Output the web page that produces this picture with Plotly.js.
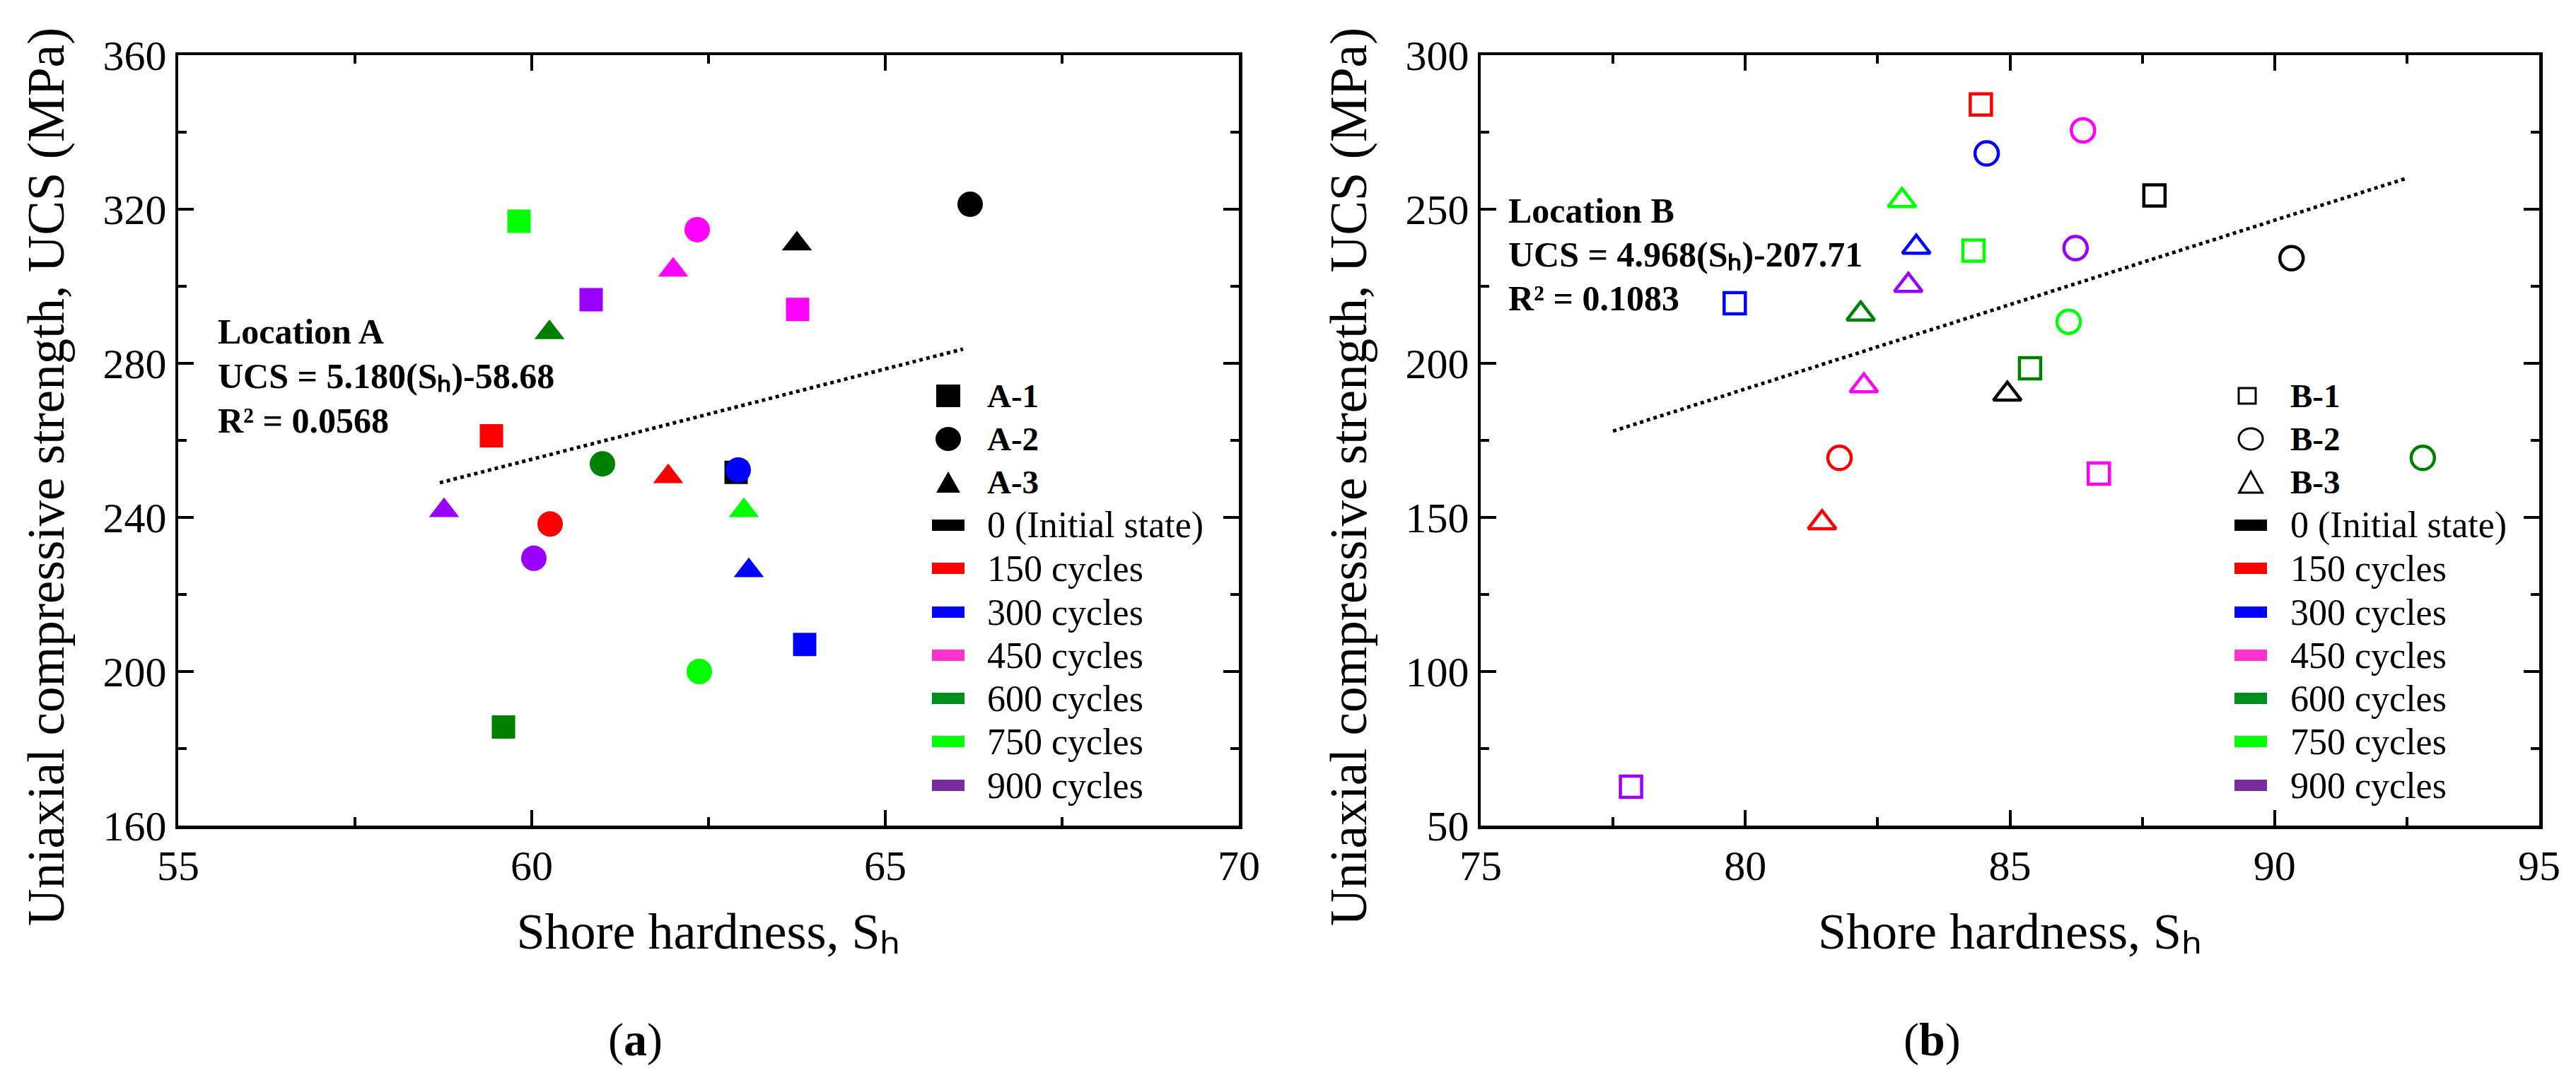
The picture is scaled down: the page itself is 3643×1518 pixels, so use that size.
<!DOCTYPE html>
<html>
<head>
<meta charset="utf-8">
<script src="https://cdn.plot.ly/plotly-3.0.1.min.js"></script>
<style>html,body{margin:0;padding:0;background:#fff;}#chart{width:3643px;height:1518px;}</style>
</head>
<body>
<div id="chart"></div>
<script>
// ---------------- DATA ----------------
const cycles = ['0 (Initial state)', '150 cycles', '300 cycles', '450 cycles', '600 cycles', '750 cycles', '900 cycles'];
const markerColors = ['#000000', '#FF0000', '#0000FF', '#FF00FF', '#008000', '#00FF00', '#9900FF'];
const legendColors = ['#000000', '#FF0000', '#0000FF', '#FF33CC', '#008F1F', '#00FF00', '#7A2C9E'];

// Location A (Shore hardness, UCS) per sample, ordered as cycles
const A1_x = [62.89, 59.43, 63.86, 63.76, 59.60, 59.82, 60.84];
const A1_y = [251.7, 261.2, 207.0, 294.0, 185.6, 316.9, 296.5];
const A2_x = [66.20, 60.26, 62.92, 62.34, 61.00, 62.37, 60.03];
const A2_y = [321.3, 238.3, 252.3, 314.7, 253.9, 200.0, 229.4];
const A3_x = [63.75, 61.93, 63.07, 62.00, 60.25, 63.00, 58.76];
const A3_y = [311.0, 250.6, 226.2, 304.2, 288.0, 241.8, 241.8];
const trendA_x = [58.7, 66.1];
const trendA_y = [249.0, 283.7];

// Location B
const B1_x = [87.73, 84.45, 79.80, 86.68, 85.38, 84.31, 77.84];
const B1_y = [254.5, 284.0, 219.5, 164.2, 198.4, 236.6, 62.6];
const B2_x = [90.32, 81.78, 84.56, 86.38, 92.80, 86.11, 86.24];
const B2_y = [234.1, 169.3, 268.1, 275.6, 169.3, 213.5, 237.4];
const B3_x = [84.95, 81.45, 83.23, 82.24, 82.18, 82.96, 83.08];
const B3_y = [190.0, 148.3, 237.7, 192.7, 216.0, 252.8, 225.3];
const trendB_x = [77.5, 92.5];
const trendB_y = [178.0, 260.1];

const samplesA = ['A-1', 'A-2', 'A-3'];
const samplesB = ['B-1', 'B-2', 'B-3'];
const eqA = ['Location A', 'UCS = 5.180(S\u2095)-58.68', 'R\u00B2 = 0.0568'];
const eqB = ['Location B', 'UCS = 4.968(S\u2095)-207.71', 'R\u00B2 = 0.1083'];
const xTitleText = 'Shore hardness, S\u2095';
const yTitleText = 'Uniaxial compressive strength, UCS (MPa)';
const xTicksA = [55, 60, 65, 70];
const yTicksA = [160, 200, 240, 280, 320, 360];
const xTicksB = [75, 80, 85, 90, 95];
const yTicksB = [50, 100, 150, 200, 250, 300];

// ---------------- LAYOUT HELPERS ----------------
const W = 3643, H = 1518;
const X = p => p / W;
const Y = p => 1 - p / H;
const FONT = 'Liberation Serif';

function pts(x, y, symbol, size, xa, ya, open, name) {
  return {
    type: 'scatter', mode: 'markers', x: x, y: y, xaxis: xa, yaxis: ya, name: name,
    text: cycles, hoverinfo: 'x+y+text',
    marker: open
      ? {symbol: symbol, size: size, color: markerColors, line: {width: 4.5, color: markerColors}}
      : {symbol: symbol, size: size, color: markerColors, line: {width: 0}}
  };
}
function trend(x, y, xa, ya) {
  return {type: 'scatter', mode: 'lines', x: x, y: y, xaxis: xa, yaxis: ya, hoverinfo: 'skip',
          line: {color: '#000', width: 5, dash: 'dot'}};
}

const traces = [
  trend(trendA_x, trendA_y, 'x', 'y'),
  pts(A1_x, A1_y, 'square', 33, 'x', 'y', false, samplesA[0]),
  pts(A2_x, A2_y, 'circle', 36, 'x', 'y', false, samplesA[1]),
  pts(A3_x, A3_y, 'triangle-up', 37, 'x', 'y', false, samplesA[2]),
  trend(trendB_x, trendB_y, 'x2', 'y2'),
  pts(B1_x, B1_y, 'square-open', 30, 'x2', 'y2', true, samplesB[0]),
  pts(B2_x, B2_y, 'circle-open', 33, 'x2', 'y2', true, samplesB[1]),
  pts(B3_x, B3_y, 'triangle-up-open', 34, 'x2', 'y2', true, samplesB[2])
];

function axis(extra) {
  return Object.assign({
    showline: true, linecolor: '#000', linewidth: 4.5, mirror: 'ticks',
    ticks: 'inside', ticklen: 22, tickwidth: 4, tickcolor: '#000',
    showgrid: false, zeroline: false, fixedrange: true,
    tickfont: {family: FONT, size: 60, color: '#000'}
  }, extra);
}
const minorOpt = d => ({dtick: d, ticks: 'inside', ticklen: 12, tickwidth: 4, tickcolor: '#000', showgrid: false});
const yDom = [Y(1168), Y(78)];
const xTitle = {text: xTitleText, font: {family: FONT, size: 72, color: '#000'}, standoff: 36};

const layout = {
  width: W, height: H, margin: {l: 0, r: 0, t: 0, b: 0},
  paper_bgcolor: '#fff', plot_bgcolor: '#fff', showlegend: false,
  font: {family: FONT, color: '#000'},
  xaxis: axis({domain: [X(252), X(1752)], range: [55, 70], tickvals: xTicksA, minor: minorOpt(2.5), anchor: 'y', title: xTitle}),
  yaxis: axis({domain: yDom, range: [160, 360], tickvals: yTicksA, minor: minorOpt(20), anchor: 'x'}),
  xaxis2: axis({domain: [X(2094), X(3591)], range: [75, 95], tickvals: xTicksB, minor: minorOpt(2.5), anchor: 'y2', title: xTitle}),
  yaxis2: axis({domain: yDom, range: [50, 300], tickvals: yTicksB, minor: minorOpt(25), anchor: 'x2'}),
  annotations: [], shapes: []
};

const ann = layout.annotations, shp = layout.shapes;
function txt(t, px, py, size, opts, bold) {
  ann.push(Object.assign({text: t, xref: 'paper', yref: 'paper', x: X(px), y: Y(py),
    xanchor: 'left', yanchor: 'middle', showarrow: false, align: 'left',
    font: {family: FONT, size: size, color: '#000', weight: bold ? 'bold' : 'normal'}}, opts || {}));
}

// y-axis titles
txt(yTitleText, 65, 675, 73, {xanchor: 'center', textangle: -90});
txt(yTitleText, 1907, 675, 73, {xanchor: 'center', textangle: -90});

// panel labels
txt('(<b>a</b>)', 898, 1471, 66, {xanchor: 'center'});
txt('(<b>b</b>)', 2732, 1471, 66, {xanchor: 'center'});

// equations
const eqRowsA = [469, 532, 595];
const eqRowsB = [298, 360, 422];
eqA.forEach((t, i) => txt(t, 306, eqRowsA[i], 50, null, true));
eqB.forEach((t, i) => txt(t, 2131, eqRowsB[i], 50, null, true));

// legends (drawn manually)
const rows = [560, 621, 682, 743, 804, 866, 927, 988, 1049, 1111];
function rect(x0, x1, y0, y1, fill, line) {
  shp.push({type: 'rect', xref: 'paper', yref: 'paper', x0: X(x0), x1: X(x1), y0: Y(y1), y1: Y(y0),
    fillcolor: fill || 'rgba(0,0,0,0)', line: line || {width: 0}});
}
function circ(cx, cy, rx, ry, fill, line) {
  shp.push({type: 'circle', xref: 'paper', yref: 'paper', x0: X(cx - rx), x1: X(cx + rx), y0: Y(cy + ry), y1: Y(cy - ry),
    fillcolor: fill || 'rgba(0,0,0,0)', line: line || {width: 0}});
}
function tri(cx, cy, w, h, fill, line) {
  const p = 'M ' + X(cx - w / 2) + ',' + Y(cy + h / 2) + ' L ' + X(cx + w / 2) + ',' + Y(cy + h / 2) +
            ' L ' + X(cx) + ',' + Y(cy - h / 2) + ' Z';
  shp.push({type: 'path', xref: 'paper', yref: 'paper', path: p,
    fillcolor: fill || 'rgba(0,0,0,0)', line: line || {width: 0}});
}
function legend(symX, textX, samples, open) {
  const ln = {color: '#000', width: 3};
  if (open) {
    rect(symX - 17, symX + 7, rows[0] - 11, rows[0] + 11, null, ln);
    circ(symX, rows[1], 17, 15, null, ln);
    tri(symX, rows[2], 33, 30, null, ln);
  } else {
    rect(symX - 17, symX + 17, rows[0] - 16, rows[0] + 16, '#000');
    circ(symX, rows[1], 18, 17, '#000');
    tri(symX, rows[2], 34, 30, '#000');
  }
  samples.forEach((s, i) => txt(s, textX, rows[i], 47, null, true));
  cycles.forEach((c, i) => {
    rect(symX - 23, symX + 23, rows[3 + i] - 8, rows[3 + i] + 8, legendColors[i]);
    txt(c, textX, rows[3 + i], 52);
  });
}
legend(1341, 1394, samplesA, false);
legend(3183, 3237, samplesB, true);

Plotly.newPlot('chart', traces, layout, {displayModeBar: false, staticPlot: true});
</script>
</body>
</html>
